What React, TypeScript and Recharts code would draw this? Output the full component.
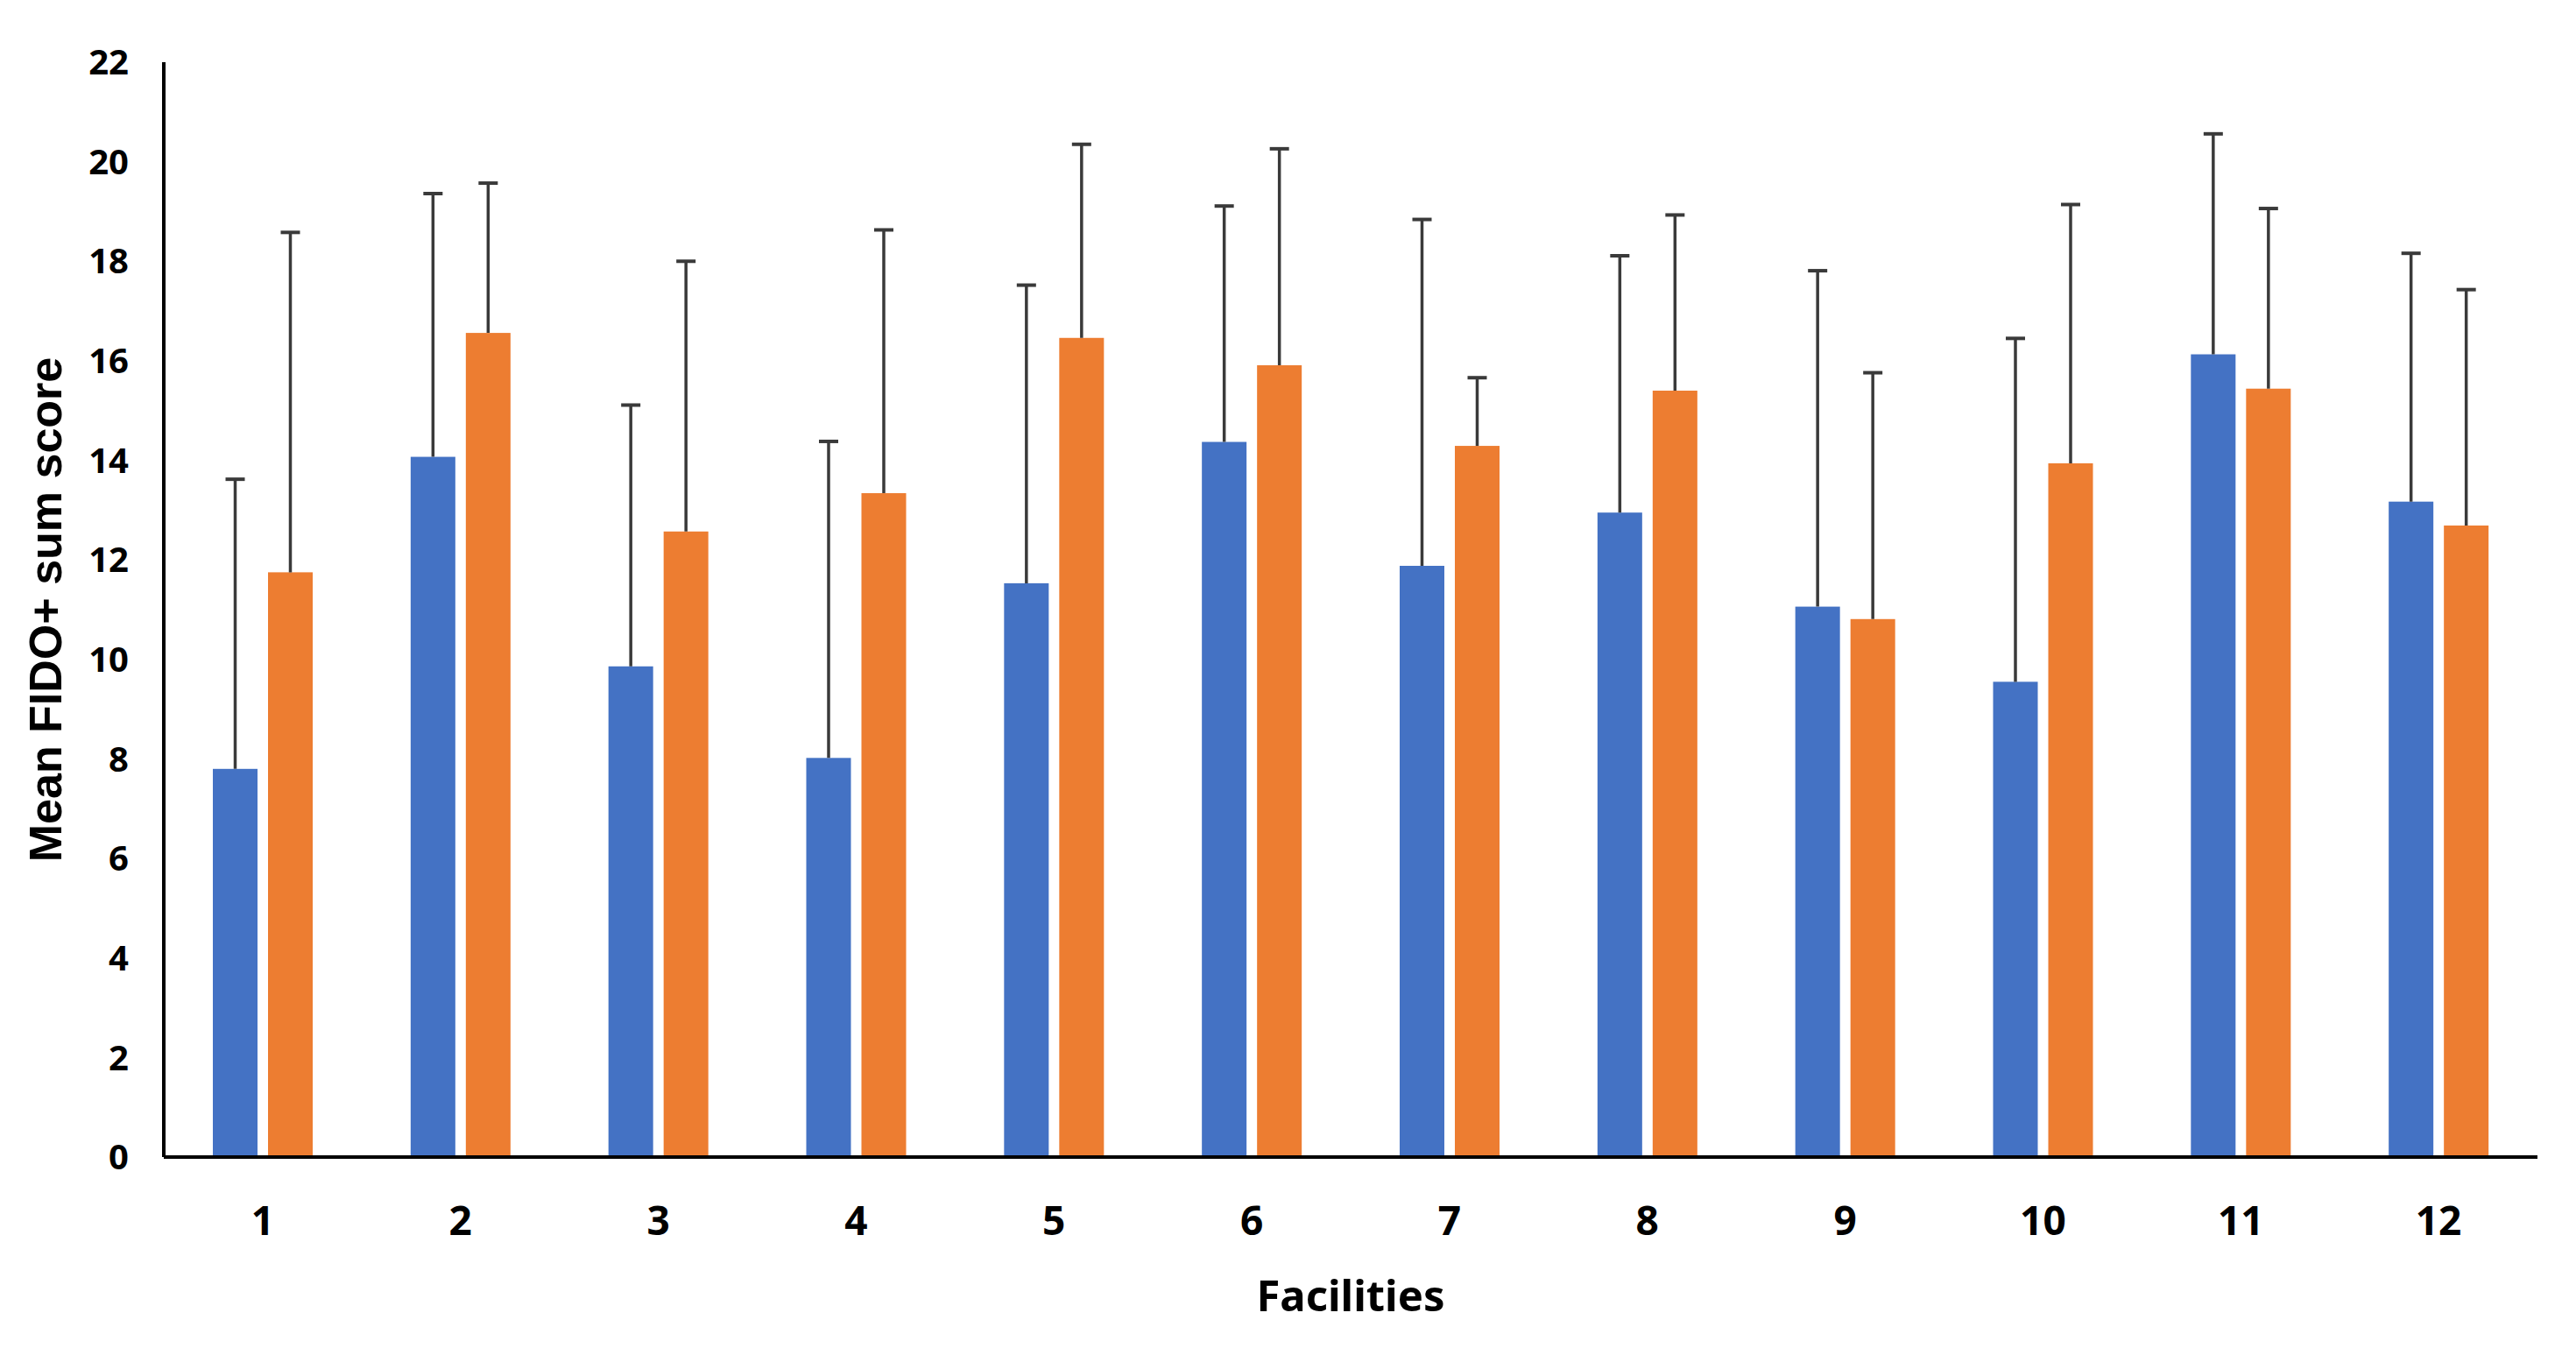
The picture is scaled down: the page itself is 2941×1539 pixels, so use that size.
import React from "react"
import { BarChart, Bar, XAxis, YAxis, Label } from "recharts"

const facilities = ["1", "2", "3", "4", "5", "6", "7", "8", "9", "10", "11", "12"]
const meanA = [7.8, 14.07, 9.86, 8.02, 11.53, 14.37, 11.88, 12.95, 11.06, 9.55, 16.13, 13.17]
const sdA = [5.82, 5.29, 5.25, 6.36, 5.99, 4.74, 6.96, 5.16, 6.75, 6.9, 4.43, 4.99]
const meanB = [11.75, 16.56, 12.57, 13.34, 16.46, 15.91, 14.29, 15.4, 10.81, 13.94, 15.44, 12.69]
const sdB = [6.83, 3.01, 5.43, 5.29, 3.89, 4.35, 1.37, 3.53, 4.95, 5.2, 3.62, 4.74]
const yTicks = [0, 2, 4, 6, 8, 10, 12, 14, 16, 18, 20, 22]

const data = facilities.map((f, i) => ({
  facility: f,
  a: meanA[i],
  aSd: sdA[i],
  b: meanB[i],
  bSd: sdB[i],
}))

const tickFont = "'Noto Sans', sans-serif"
const errColor = "#3a3a3a"

// bar + plus-only error whisker (Excel style, no lower cap)
function barWithError(sdKey: string) {
  return (props: any) => {
    const { x, y, width, height, fill, payload, value } = props
    const v = Array.isArray(value) ? value[1] - value[0] : value
    const unit = v ? height / v : 0
    const top = y - payload[sdKey] * unit
    const cx = x + width / 2
    return (
      <g>
        <rect x={x} y={y} width={width} height={height} fill={fill} />
        <line x1={cx} x2={cx} y1={y} y2={top} stroke={errColor} strokeWidth={3.5} />
        <line x1={cx - 11} x2={cx + 11} y1={top} y2={top} stroke={errColor} strokeWidth={4} />
      </g>
    )
  }
}

function YTitle(props: any) {
  const vb = props.viewBox
  const cx = 70
  const cy = vb.y + vb.height / 2
  return (
    <text
      x={cx}
      y={cy}
      transform={`rotate(-90 ${cx} ${cy})`}
      textAnchor="middle"
      fontFamily="'Liberation Sans', Arial, sans-serif"
      fontWeight="bold"
      fontSize={52}
      fill="#000"
    >
      Mean FIDO+ sum score
    </text>
  )
}

export default function App() {
  return (
    <div style={{ position: "absolute", left: 0, top: 0, width: 2941, height: 1539, background: "#fff" }}>
      <BarChart
        width={2941}
        height={1539}
        data={data}
        margin={{ top: 71, right: 44, bottom: 0, left: 0 }}
        barSize={51}
        barGap={12}
      >
        <XAxis
          dataKey="facility"
          height={218}
          tickLine={false}
          axisLine={{ stroke: "#000", strokeWidth: 4 }}
          tickMargin={50}
          tick={{ fontSize: 46, fontWeight: "bold", fill: "#000", fontFamily: tickFont }}
        >
          <Label
            value="Facilities"
            position="insideBottom"
            offset={42}
            style={{ fontSize: 49, fontWeight: "bold", fill: "#000", fontFamily: tickFont }}
          />
        </XAxis>
        <YAxis
          width={187}
          domain={[0, 22]}
          ticks={yTicks}
          interval={0}
          tickLine={false}
          axisLine={{ stroke: "#000", strokeWidth: 4 }}
          tickMargin={34}
          tick={{ fontSize: 40, fontWeight: "bold", fill: "#000", fontFamily: tickFont }}
        >
          <Label content={YTitle} />
        </YAxis>
        <Bar dataKey="a" fill="#4472C4" shape={barWithError("aSd")} isAnimationActive={false} />
        <Bar dataKey="b" fill="#ED7D31" shape={barWithError("bSd")} isAnimationActive={false} />
      </BarChart>
    </div>
  )
}
